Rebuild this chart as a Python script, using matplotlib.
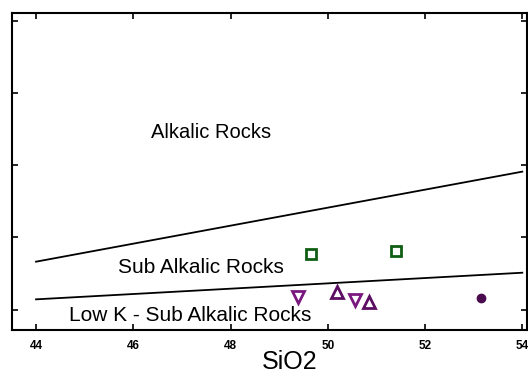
import matplotlib
matplotlib.use("Agg")
import matplotlib.pyplot as plt

plt.rcParams['font.family'] = ['Liberation Sans', 'DejaVu Sans']

# Classification boundaries (SiO2 endpoints and K2O values)
boundary_x = [44.0, 54.0]
upper_boundary = [1.663, 2.911]
lower_boundary = [1.141, 1.510]

# Sample groups
square_sio2 = [49.65, 51.40]
square_k2o = [1.766, 1.807]
tri_up_sio2 = [50.18, 50.85]
tri_up_k2o = [1.239, 1.104]
tri_down_sio2 = [49.39, 50.57]
tri_down_k2o = [1.169, 1.132]
circle_sio2 = [53.16]
circle_k2o = [1.155]

x_ticks = [44, 46, 48, 50, 52, 54]
y_ticks = [1, 2, 3, 4, 5]

fig = plt.figure(figsize=(5.28, 3.77), dpi=100)
ax = fig.add_axes([12/528, 1 - 330/377, 515/528, 317/377])

ax.plot(boundary_x, upper_boundary, color='black', lw=1.3)
ax.plot(boundary_x, lower_boundary, color='black', lw=1.3)

ax.plot(square_sio2, square_k2o, 's', ms=7.5, mfc='white', mec='#0f5e14', mew=2.0, ls='none')
ax.plot(tri_up_sio2, tri_up_k2o, '^', ms=8, mfc='white', mec='#5c0f62', mew=2.0, ls='none')
ax.plot(tri_down_sio2, tri_down_k2o, 'v', ms=8, mfc='white', mec='#7a1880', mew=2.0, ls='none')
ax.plot(circle_sio2, circle_k2o, 'o', ms=6, mfc='#4a0a4e', mec='#4a0a4e', ls='none')

ax.text(47.61, 3.45, 'Alkalic Rocks', fontsize=14.5, ha='center', va='center')
ax.text(47.40, 1.58, 'Sub Alkalic Rocks', fontsize=15, ha='center', va='center')
ax.text(47.17, 0.92, 'Low K - Sub Alkalic Rocks', fontsize=15, ha='center', va='center')

ax.set_xlim(43.506, 54.097)
ax.set_ylim(0.716, 5.11)
ax.set_xticks(x_ticks)
ax.set_xticklabels([str(v) for v in x_ticks], fontsize=8.5, fontweight='bold')
ax.set_yticks(y_ticks)
ax.set_yticklabels([])
ax.tick_params(direction='in', length=4.5, width=1.2, top=True, right=True, pad=7)
for s in ax.spines.values():
    s.set_linewidth(1.5)

fig.text(290/528, 1 - 362/377, 'SiO2', fontsize=18, ha='center', va='center')

fig.savefig('out.png', dpi=100)
